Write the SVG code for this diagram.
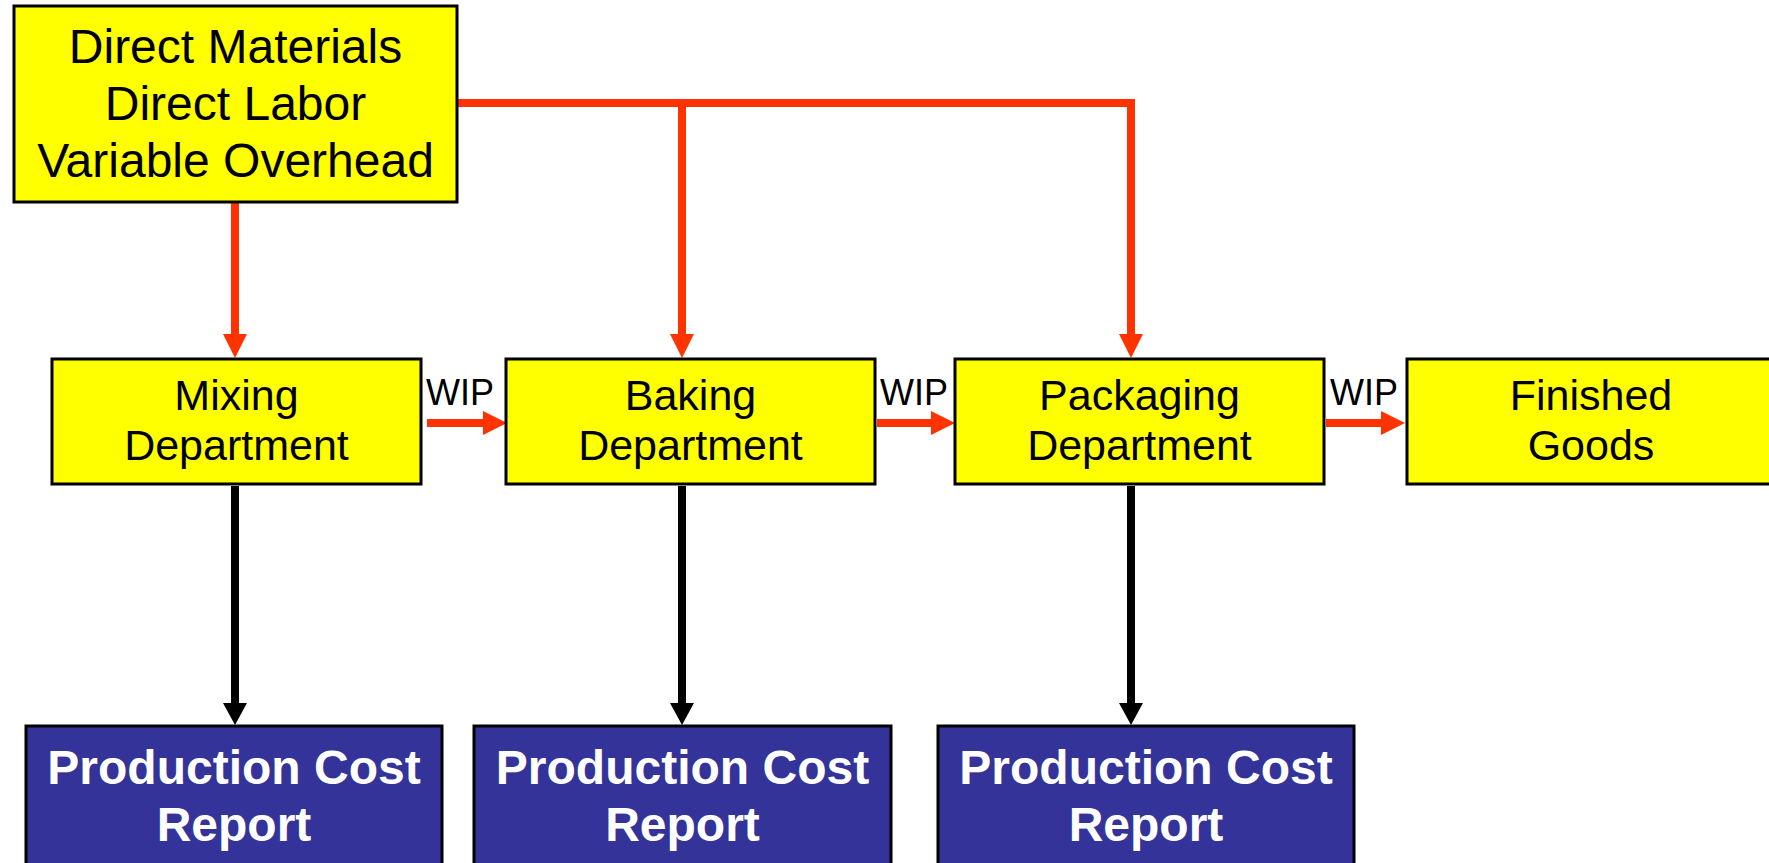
<svg xmlns="http://www.w3.org/2000/svg" width="1769" height="863" viewBox="0 0 1769 863">
  <style>
    .cost { fill: #FFFF00; stroke: #000; stroke-width: 3; }
    .dept { fill: #FFFF00; stroke: #000; stroke-width: 3; }
    .report { fill: #333399; stroke: #000; stroke-width: 3; }
    .t-cost { font-family: "Liberation Sans", Arial, sans-serif; font-size: 48px; fill: #000; text-anchor: middle; }
    .t-dept { font-family: "Liberation Sans", Arial, sans-serif; font-size: 43px; fill: #000; text-anchor: middle; }
    .t-report { font-family: "Liberation Sans", Arial, sans-serif; font-size: 48px; font-weight: bold; fill: #fff; text-anchor: middle; }
    .t-wip { font-family: "Liberation Sans", Arial, sans-serif; font-size: 36px; fill: #000; }
    .flow { fill: none; stroke: #FF3300; stroke-width: 8; stroke-linejoin: miter; marker-end: url(#head-red); }
    .report-link { fill: none; stroke: #000; stroke-width: 8; marker-end: url(#head-black); }
  </style>
  <defs>
    <marker id="head-red" markerUnits="userSpaceOnUse" markerWidth="24" markerHeight="24" refX="0" refY="12" orient="auto" overflow="visible">
      <path d="M0,0 L24,12 L0,24 z" fill="#FF3300"/>
    </marker>
    <marker id="head-black" markerUnits="userSpaceOnUse" markerWidth="22" markerHeight="24" refX="0" refY="12" orient="auto" overflow="visible">
      <path d="M0,0 L22,12 L0,24 z" fill="#000"/>
    </marker>
  </defs>

  <rect width="1769" height="863" fill="#fff"/>

  <!-- connectors -->
  <g id="connectors">
    <path class="flow" d="M457,103 H1131 V334"/>
    <path class="flow" d="M682,103 V334"/>
    <path class="flow" d="M235,202 V334"/>
    <path class="flow" d="M427,423 H483"/>
    <path class="flow" d="M877,423 H931"/>
    <path class="flow" d="M1326,423 H1381"/>
    <path class="report-link" d="M235,486 V703"/>
    <path class="report-link" d="M682,486 V703"/>
    <path class="report-link" d="M1131,486 V703"/>
    <text class="t-wip" x="426" y="405">WIP</text>
    <text class="t-wip" x="880" y="405">WIP</text>
    <text class="t-wip" x="1330" y="405">WIP</text>
  </g>

  <!-- cost inputs -->
  <g id="costs">
    <rect class="cost" x="14" y="6" width="443" height="196"/>
    <text class="t-cost" x="235.5" y="63">Direct Materials</text>
    <text class="t-cost" x="235.5" y="120">Direct Labor</text>
    <text class="t-cost" x="235.5" y="177">Variable Overhead</text>
  </g>

  <!-- departments -->
  <g id="mixing">
    <rect class="dept" x="52" y="359" width="369" height="125"/>
    <text class="t-dept" x="236.5" y="410">Mixing</text>
    <text class="t-dept" x="236.5" y="460">Department</text>
  </g>
  <g id="baking">
    <rect class="dept" x="506" y="359" width="369" height="125"/>
    <text class="t-dept" x="690.5" y="410">Baking</text>
    <text class="t-dept" x="690.5" y="460">Department</text>
  </g>
  <g id="packaging">
    <rect class="dept" x="955" y="359" width="369" height="125"/>
    <text class="t-dept" x="1139.5" y="410">Packaging</text>
    <text class="t-dept" x="1139.5" y="460">Department</text>
  </g>
  <g id="finished">
    <rect class="dept" x="1407" y="359" width="369" height="125"/>
    <text class="t-dept" x="1591" y="410">Finished</text>
    <text class="t-dept" x="1591" y="460">Goods</text>
  </g>

  <!-- cost reports -->
  <g id="report-mixing">
    <rect class="report" x="26" y="726" width="416" height="160"/>
    <text class="t-report" x="234" y="784">Production Cost</text>
    <text class="t-report" x="234" y="841">Report</text>
  </g>
  <g id="report-baking">
    <rect class="report" x="474" y="726" width="417" height="160"/>
    <text class="t-report" x="682.5" y="784">Production Cost</text>
    <text class="t-report" x="682.5" y="841">Report</text>
  </g>
  <g id="report-packaging">
    <rect class="report" x="938" y="726" width="416" height="160"/>
    <text class="t-report" x="1146" y="784">Production Cost</text>
    <text class="t-report" x="1146" y="841">Report</text>
  </g>
</svg>
